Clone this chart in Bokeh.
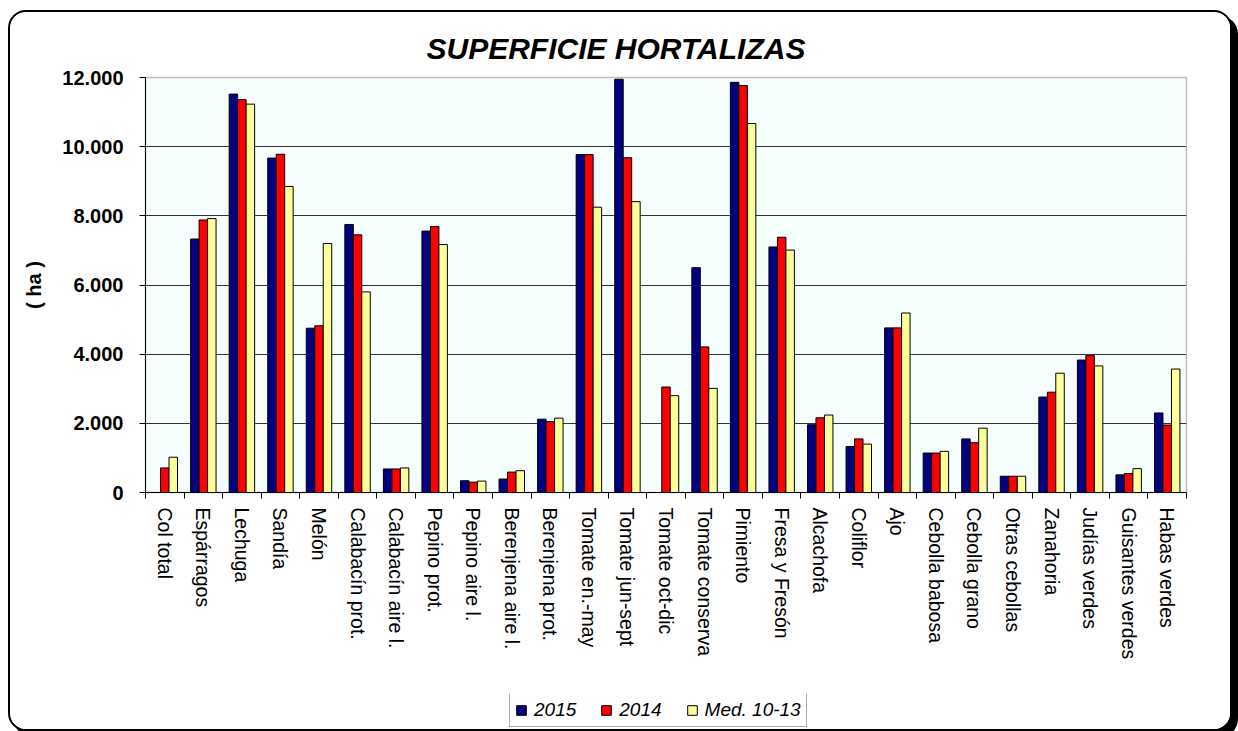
from bokeh.plotting import figure
from bokeh.layouts import column
from bokeh.models import (Range1d, FixedTicker, CustomJSTickFormatter, Legend, LegendItem,
                          ColumnDataSource)
from bokeh.transform import dodge
from bokeh.embed import file_html
from bokeh.resources import INLINE

categories = ["Col total", "Espárragos", "Lechuga", "Sandía", "Melón", "Calabacín prot.",
              "Calabacín aire l.", "Pepino prot.", "Pepino aire l.", "Berenjena aire l.",
              "Berenjena prot.", "Tomate en.-may", "Tomate jun-sept", "Tomate oct-dic",
              "Tomate conserva", "Pimiento", "Fresa y Fresón", "Alcachofa", "Coliflor", "Ajo",
              "Cebolla babosa", "Cebolla grano", "Otras cebollas", "Zanahoria", "Judías verdes",
              "Guisantes verdes", "Habas verdes"]

s2015 = [0, 7330, 11520, 9670, 4750, 7750, 680, 7560, 340, 390, 2120, 9770, 11950, 0, 6500,
         11860, 7100, 1960, 1330, 4760, 1140, 1550, 470, 2760, 3830, 510, 2300]
s2014 = [710, 7880, 11360, 9780, 4820, 7450, 680, 7690, 300, 590, 2050, 9770, 9680, 3050, 4210,
         11770, 7380, 2160, 1550, 4760, 1140, 1440, 470, 2900, 3960, 550, 1950]
med1013 = [1020, 7920, 11230, 8850, 7200, 5800, 710, 7170, 330, 630, 2150, 8250, 8410, 2800, 3010,
           10670, 7010, 2240, 1400, 5190, 1190, 1860, 470, 3450, 3660, 690, 3570]

series_labels = ["2015", "2014", "Med. 10-13"]
series_cols = ["s2015", "s2014", "med"]
y_ticks = [0, 2000, 4000, 6000, 8000, 10000, 12000]
title_text = "SUPERFICIE HORTALIZAS"
y_label = "( ha )"

FONT = "Liberation Sans"
n = len(categories)
idx = list(range(n))
colors = ["#000080", "#FF0000", "#FFFF99"]

src = ColumnDataSource(dict(x=idx, s2015=s2015, s2014=s2014, med=med1013))

# ---------------- main chart ----------------
p = figure(width=1220, height=682,
           x_range=Range1d(-0.5, n - 0.5), y_range=Range1d(y_ticks[0], y_ticks[-1]),
           output_backend="svg", toolbar_location=None,
           min_border_left=135, min_border_right=44, min_border_top=65, min_border_bottom=202,
           background_fill_color="#F5FDFD", border_fill_color="white",
           outline_line_color="#C0C0C0", outline_line_width=1.5)

w = 0.22
offsets = [-w, 0, w]
for col, c, off in zip(series_cols, colors, offsets):
    p.vbar(x=dodge("x", off, range=p.x_range), top=col, width=w, source=src,
           fill_color=c, line_color="black", line_width=1)

# title
p.title.text = title_text
p.title.text_font = FONT
p.title.text_font_size = "30px"
p.title.text_font_style = "bold italic"
p.title.text_color = "black"
p.title.align = "left"
p.title.offset = 281
p.title.standoff = 25

# x axis
xa = p.xaxis[0]
xa.ticker = FixedTicker(ticks=idx, minor_ticks=[i - 0.5 for i in range(n + 1)])
xa.formatter = CustomJSTickFormatter(args=dict(labels=categories),
                                     code="const i = Math.round(tick); return (i >= 0 && i < labels.length) ? labels[i] : '';")
xa.major_tick_out = 0
xa.major_tick_in = 0
xa.minor_tick_out = 6
xa.minor_tick_in = 0
xa.minor_tick_line_color = "black"
xa.axis_line_color = "black"
xa.major_label_orientation = "vertical"
xa.major_label_standoff = 9
xa.major_label_text_font = FONT
xa.major_label_text_font_size = "19.5px"
xa.major_label_text_color = "black"

# y axis
ya = p.yaxis[0]
ya.ticker = FixedTicker(ticks=y_ticks)
ya.formatter = CustomJSTickFormatter(code="return tick.toFixed(0).replace(/\\B(?=(\\d{3})+(?!\\d))/g, '.');")
ya.major_tick_out = 6
ya.major_tick_in = 0
ya.minor_tick_line_color = None
ya.axis_line_color = "black"
ya.major_label_standoff = 16
ya.major_label_text_font = FONT
ya.major_label_text_font_size = "20px"
ya.major_label_text_font_style = "bold"
ya.major_label_text_color = "black"
ya.axis_label = y_label
ya.axis_label_text_font = FONT
ya.axis_label_text_font_size = "20px"
ya.axis_label_text_font_style = "bold"
ya.axis_label_text_color = "black"
ya.axis_label_standoff = 14

p.xgrid.visible = False
p.ygrid.ticker = FixedTicker(ticks=y_ticks[1:-1])
p.ygrid.grid_line_color = "#333333"
p.ygrid.grid_line_width = 1

# ---------------- legend strip (its bars lie outside its visible x range) ----------------
lg = figure(width=1220, height=35, x_range=Range1d(-12, -11), y_range=Range1d(0, 1),
            output_backend="svg", toolbar_location=None, x_axis_type=None, y_axis_type=None,
            min_border_left=0, min_border_right=0, min_border_top=0, min_border_bottom=0,
            background_fill_color="white", border_fill_color="white", outline_line_color=None)
lg.frame_align = False
lg.grid.visible = False
lr = [lg.vbar(x="x", top=col, width=w, source=src, fill_color=c, line_color="black", line_width=1)
      for col, c in zip(series_cols, colors)]

legend = Legend(items=[LegendItem(label=lab, renderers=[r]) for lab, r in zip(series_labels, lr)],
                orientation="horizontal", location=(499, 2),
                label_text_font=FONT, label_text_font_size="19px", label_text_font_style="italic",
                label_text_color="black", glyph_width=12, glyph_height=12, label_standoff=7,
                spacing=24, padding=5, border_line_color="#555555", border_line_width=1.5,
                background_fill_color="white", background_fill_alpha=1, margin=0)
lg.add_layout(legend, "center")

layout = column(p, lg, spacing=0)
layout.styles = {"margin-left": "8px", "margin-top": "10px",
                 "border": "2px solid black", "border-radius": "18px",
                 "box-shadow": "6px 6px 0px 0px #000000", "overflow": "hidden",
                 "background-color": "white", "width": "1224px", "box-sizing": "border-box"}

open("out.html", "w").write(file_html(layout, INLINE))
